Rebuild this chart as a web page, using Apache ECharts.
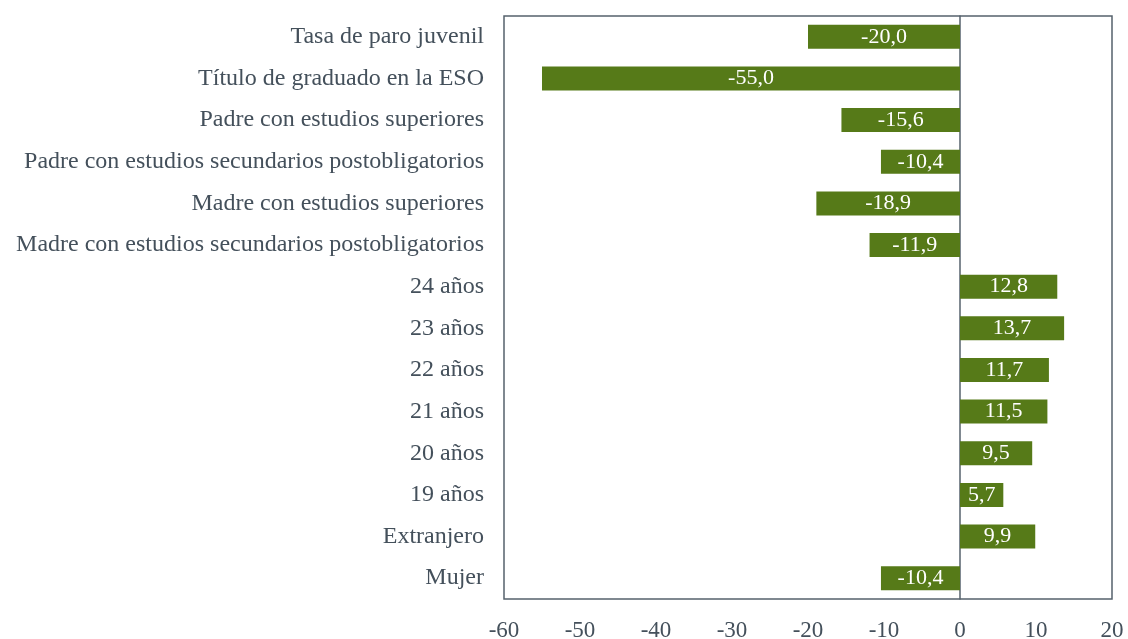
<!DOCTYPE html>
<html>
<head>
<meta charset="utf-8">
<script src="https://cdn.jsdelivr.net/npm/echarts@6/dist/echarts.min.js"></script>
<style>
  html, body { margin: 0; padding: 0; background: #fff; }
  #myChart { width: 1128px; height: 639px; }
</style>
</head>
<body>
<div id="myChart"></div>
<script>
  // categorias de arriba a abajo
  var categories = [
    'Tasa de paro juvenil',
    'Título de graduado en la ESO',
    'Padre con estudios superiores',
    'Padre con estudios secundarios postobligatorios',
    'Madre con estudios superiores',
    'Madre con estudios secundarios postobligatorios',
    '24 años',
    '23 años',
    '22 años',
    '21 años',
    '20 años',
    '19 años',
    'Extranjero',
    'Mujer'
  ];
  var values = [-20.0, -55.0, -15.6, -10.4, -18.9, -11.9, 12.8, 13.7, 11.7, 11.5, 9.5, 5.7, 9.9, -10.4];

  var xMin = -60, xMax = 20, xStep = 10;

  var fontSerif = '"Liberation Serif", "DejaVu Serif", serif';
  var textColor = '#44505b';

  var myChart = echarts.init(document.getElementById('myChart'));
  var option = {
    animation: false,
    grid: {
      left: 504,
      right: 16,
      top: 16,
      bottom: 40,
      containLabel: false,
      outerBoundsMode: 'none',
      show: true,
      borderColor: '#56626c',
      borderWidth: 1.5
    },
    xAxis: {
      type: 'value',
      min: xMin,
      max: xMax,
      interval: xStep,
      axisLine: { show: false },
      axisTick: { show: false },
      splitLine: { show: false },
      axisLabel: {
        margin: 20,
        color: textColor,
        fontFamily: fontSerif,
        fontSize: 23
      }
    },
    yAxis: {
      type: 'category',
      inverse: true,
      data: categories,
      axisTick: { show: false },
      axisLine: {
        show: true,
        onZero: true,
        lineStyle: { color: '#56626c', width: 1.5 }
      },
      axisLabel: {
        margin: 20,
        color: textColor,
        fontFamily: fontSerif,
        fontSize: 24
      }
    },
    series: [{
      type: 'bar',
      data: values,
      barWidth: 24,
      itemStyle: { color: '#567a18' },
      label: {
        show: true,
        position: 'inside',
        color: '#fff',
        fontFamily: fontSerif,
        fontSize: 22,
        formatter: function (p) {
          return p.value.toFixed(1).replace('.', ',');
        }
      }
    }]
  };
  myChart.setOption(option);
</script>
</body>
</html>
